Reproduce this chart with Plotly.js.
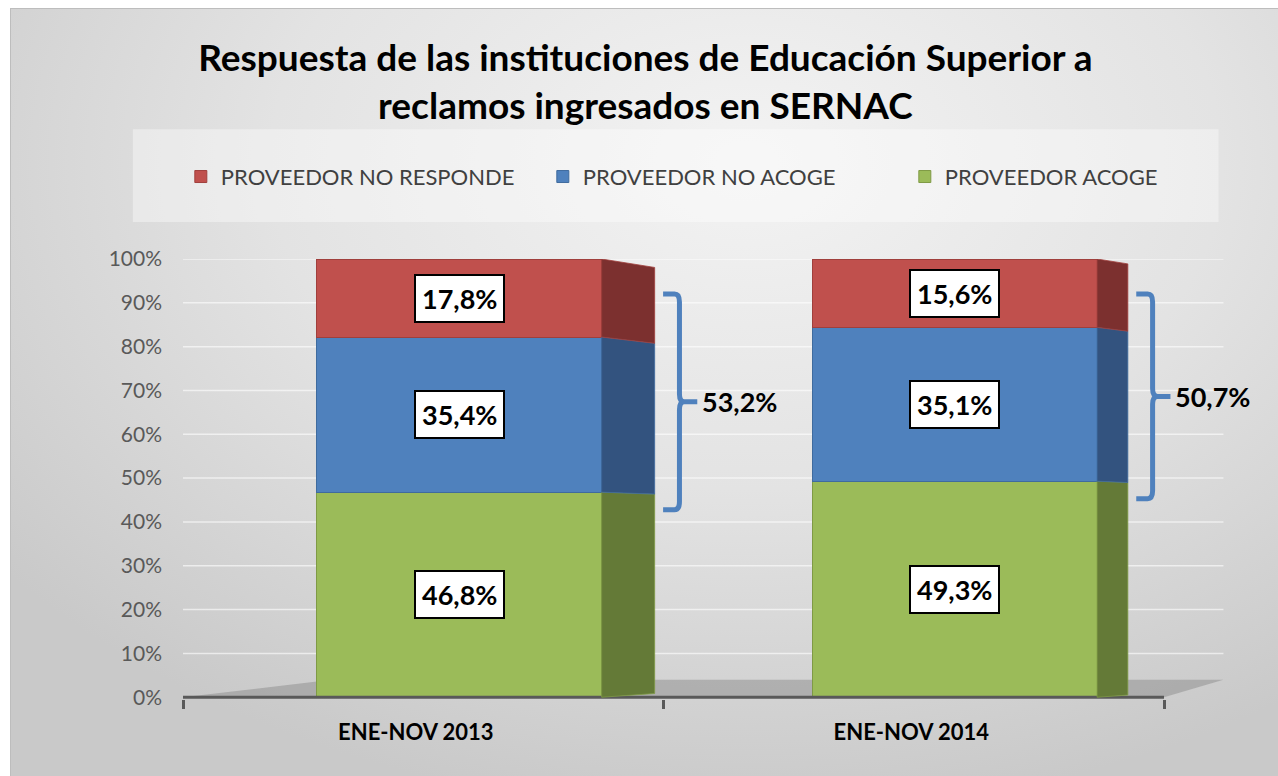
<!DOCTYPE html>
<html>
<head>
<meta charset="utf-8">
<script src="https://cdn.plot.ly/plotly-3.0.1.min.js"></script>
<style>
  html, body { margin: 0; padding: 0; background: #fff; }
  #frame {
    position: absolute; left: 10px; top: 8px; width: 1268px; height: 768px;
    border-top: 1px solid #bdbdbd; border-left: 1px solid #bdbdbd;
    background: radial-gradient(ellipse 75% 85% at 58% 20%, #f3f3f3 0%, #e3e3e3 50%, #c9c9c9 100%);
  }
  #graph { position: absolute; left: 0; top: 0; width: 1278px; height: 776px; }
</style>
</head>
<body>
<div id="frame"></div>
<div id="graph"></div>
<script>
// datos
const categories = ['ENE-NOV 2013', 'ENE-NOV 2014'];
const acoge = [46.8, 49.3];
const noAcoge = [35.4, 35.1];
const noResponde = [17.8, 15.6];
const yTicks = [0, 10, 20, 30, 40, 50, 60, 70, 80, 90, 100];

const names = ['PROVEEDOR ACOGE', 'PROVEEDOR NO ACOGE', 'PROVEEDOR NO RESPONDE'];
const series = [acoge, noAcoge, noResponde];
const front = ['#9BBB59', '#4F81BD', '#C0504D'];
const side = ['#647A37', '#33537F', '#7C302F'];
const edge = ['#7F9A45', '#3F6B9E', '#A03F3C'];

const xs = categories.map((c, i) => i);
const barW = 0.575, barOff = -0.2;
const depth = [0.107, 0.062];   // profundidad de la cara lateral
const axisEnd = [-0.47, 1.51], wallEnd = 1.63;
const FONT = 'Lato, "Open Sans", sans-serif';

function pct(v) { return v.toFixed(1).replace('.', ',') + '%'; }

const traces = series.map((vals, s) => ({
  type: 'bar',
  name: names[s],
  x: xs,
  y: vals,
  width: barW,
  offset: barOff,
  marker: { color: front[s], line: { color: edge[s], width: 1 } },
  hoverinfo: 'skip'
}));

const shapes = [];
const annotations = [];

// fondo de la leyenda
shapes.push({
  type: 'rect', xref: 'paper', yref: 'paper', layer: 'below',
  x0: -0.046, x1: 0.95, y0: 1.084, y1: 1.295,
  fillcolor: 'rgba(255,255,255,0.38)', line: { width: 0 }
});

// lineas de grilla (pared del fondo)
yTicks.forEach(v => {
  if (v === 0) return;
  shapes.push({
    type: 'line', xref: 'x', yref: 'y', layer: 'below',
    x0: axisEnd[0], x1: wallEnd, y0: v, y1: v,
    line: { color: 'rgba(255,255,255,0.6)', width: 1.5 }
  });
});

// piso
shapes.push({
  type: 'path', xref: 'x', yref: 'y', layer: 'below',
  path: `M ${axisEnd[0]},0 L ${axisEnd[1]},0 L ${wallEnd},4 L -0.17,4 Z`,
  fillcolor: 'rgba(140,140,140,0.5)', line: { width: 0 }
});

// eje horizontal
shapes.push({
  type: 'line', xref: 'x', yref: 'y',
  x0: axisEnd[0], x1: axisEnd[1], y0: 0, y1: 0,
  line: { color: '#595959', width: 3 }
});

xs.forEach((x, i) => {
  const xr = x + barOff + barW;
  const d = depth[i];
  const ps = 1 - d * 0.26, pb = d * 8;
  const yb = y => pb + y * ps;
  let bottom = 0;
  series.forEach((vals, s) => {
    const y0 = bottom, y1 = bottom + vals[i];
    shapes.push({
      type: 'path', xref: 'x', yref: 'y',
      path: `M ${xr},${y0} L ${xr + d},${yb(y0)} L ${xr + d},${yb(y1)} L ${xr},${y1} Z`,
      fillcolor: side[s], line: { color: edge[s], width: 0.8 }
    });
    annotations.push({
      x: x + barOff + barW / 2, y: (y0 + y1) / 2, xref: 'x', yref: 'y',
      text: pct(vals[i]), showarrow: false,
      font: { family: FONT, size: 27, weight: 700, color: '#000' },
      bgcolor: '#fff', bordercolor: '#000', borderwidth: 2, borderpad: 6
    });
    bottom = y1;
  });

  // llave con la suma de NO ACOGE + NO RESPONDE
  const total = acoge[i] + noAcoge[i] + noResponde[i];
  const hi = total - 8, lo = acoge[i] - 4, mid = (hi + lo) / 2;
  const bx = xr + d + 0.05;
  const tip = 0.033, nub = 0.036, rx = 0.01, ry = 1.8;
  const bracePath = `M ${bx - tip},${hi} L ${bx - rx},${hi} Q ${bx},${hi} ${bx},${hi - ry} ` +
          `L ${bx},${mid + ry} Q ${bx},${mid} ${bx + rx},${mid} L ${bx + nub},${mid} ` +
          `M ${bx + rx},${mid} Q ${bx},${mid} ${bx},${mid - ry} ` +
          `L ${bx},${lo + ry} Q ${bx},${lo} ${bx - rx},${lo} L ${bx - tip},${lo}`;
  shapes.push({
    type: 'path', xref: 'x', yref: 'y',
    path: bracePath,
    line: { color: '#4F81BD', width: 5 }
  });
  annotations.push({
    x: bx + nub, y: mid, xref: 'x', yref: 'y', xanchor: 'left',
    text: pct(noAcoge[i] + noResponde[i]), showarrow: false, xshift: 3,
    font: { family: FONT, size: 27, weight: 700, color: '#000' }
  });
});

const layout = {
  width: 1278, height: 776,
  paper_bgcolor: 'rgba(0,0,0,0)', plot_bgcolor: 'rgba(0,0,0,0)',
  font: { family: FONT, color: '#404040' },
  margin: { l: 183, r: 5, t: 259, b: 77 },
  barmode: 'stack',
  title: {
    text: 'Respuesta de las instituciones de Educación Superior a<br>reclamos ingresados en SERNAC',
    font: { family: FONT, size: 37, weight: 700, color: '#000' },
    xref: 'container', x: 0.505, xanchor: 'center',
    yref: 'container', y: 1 - 71 / 776, yanchor: 'middle'
  },
  legend: {
    orientation: 'h', traceorder: 'reversed',
    entrywidth: 317, entrywidthmode: 'pixels',
    x: -0.002, xanchor: 'left', y: 1.187, yanchor: 'middle',
    font: { family: FONT, size: 22, color: '#404040' },
    bgcolor: 'rgba(0,0,0,0)'
  },
  xaxis: {
    range: [-0.47, 1.73],
    tickvals: xs, ticktext: categories,
    tickfont: { family: FONT, size: 22, weight: 700, color: '#000' },
    ticks: '', ticklabelstandoff: 18,
    showgrid: false, zeroline: false, showline: false,
    minor: { tickvals: [axisEnd[0], 0.5, axisEnd[1]], ticks: 'outside', ticklen: 9, tickwidth: 3, tickcolor: '#595959', showgrid: false }
  },
  yaxis: {
    range: [-0.4, 100],
    tickvals: yTicks, ticktext: yTicks.map(v => v + '%'),
    tickfont: { family: FONT, size: 21, color: '#595959' },
    ticks: '', ticklabelstandoff: 20,
    showgrid: false, zeroline: false, showline: false
  },
  shapes: shapes,
  annotations: annotations,
  showlegend: true
};

Plotly.newPlot('graph', traces, layout, { displayModeBar: false, staticPlot: true });
</script>
</body>
</html>
